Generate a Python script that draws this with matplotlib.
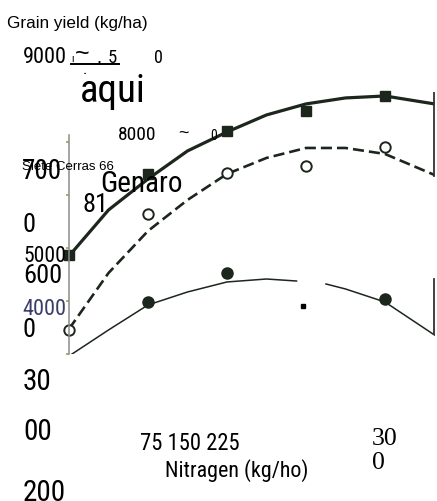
import numpy as np
import matplotlib.pyplot as plt

W, H = 437, 502

# nitrogen rates (kg/ha) and grain yields (kg/ha)
n_rates = [0, 75, 150, 225, 300]
yield_square = [4870, 6400, 7210, 7585, 7870]
yield_open = [3450, 5640, 6415, 6550, 6905]
n_filled = [75, 150, 300]
yield_filled = [3990, 4530, 4040]

# response curves
curve_n = [0, 37.5, 75, 112.5, 150, 187.5, 225, 262.5, 300, 347]
curve_top = [4849, 5717, 6302, 6831, 7189, 7510, 7718, 7831, 7868, 7718]
curve_dash = [3472, 4528, 5321, 5906, 6397, 6699, 6887, 6887, 6774, 6378]
low_left_n = [0, 37.5, 75, 112.5, 150, 187.5, 216]
low_left = [2962, 3453, 3925, 4170, 4359, 4415, 4377]
low_right_n = [244, 262.5, 300, 347]
low_right = [4321, 4227, 3981, 3359]

y_ticks = [3000, 4000, 5000, 6000, 7000]

ink = '#1c261c'
narrow = ['Roboto Condensed', 'Liberation Sans']
regular = ['Liberation Sans']
serif = ['Liberation Serif']

fig = plt.figure(figsize=(W / 100, H / 100), dpi=100)
ax = fig.add_axes([69 / W, 1 - 355 / H, (435 - 69) / W, (355 - 93) / H])
ax.set_xlim(0, 347.5)
ax.set_ylim(3000, 7943)

ax.plot(curve_n, curve_top, color=ink, lw=2.3, solid_capstyle='butt')
ax.plot(curve_n, curve_dash, color=ink, lw=1.9, dashes=(4.2, 1.9))
ax.plot(low_left_n, low_left, color=ink, lw=1.1)
ax.plot(low_right_n, low_right, color=ink, lw=1.1)

ax.plot(n_rates, yield_square, 's', color=ink, ms=7.5, clip_on=False)
ax.plot(n_rates, yield_open, 'o', mfc='white', mec=ink, mew=1.4, ms=7.5, clip_on=False)
ax.plot(n_filled, yield_filled, 'o', color=ink, ms=8, clip_on=False)
ax.plot([222], [3906], 's', color='black', ms=2.5)

for s in ['top', 'right', 'bottom']:
    ax.spines[s].set_visible(False)
ax.spines['left'].set_color('#8c8c8c')
ax.spines['left'].set_linewidth(1.1)
ax.spines['left'].set_bounds(3000, 7130)
ax.set_yticks(y_ticks)
ax.tick_params(axis='y', direction='out', length=2.5, width=1.2, color='#a0a060', labelleft=False)
ax.set_xticks([])
ax.axvline(347, ymin=0.679, ymax=1.0, color='#333333', lw=1.3)
ax.axvline(347, ymin=0.076, ymax=0.286, color='#333333', lw=1.3)


def put(x, y, s, size, fam=narrow, **kw):
    fig.text(x / W, 1 - y / H, s, fontsize=size, family=fam, va='baseline', ha='left', **kw)


put(7, 28, 'Grain yield (kg/ha)', 12.3, regular)
put(23, 63, '9000', 16)
put(71, 62, 'ı', 8)
put(75, 61, '~', 18, regular)
put(97, 63, '.', 14)
put(108, 63, '5', 13.5)
fig.add_artist(plt.Line2D([71 / W, 119 / W], [1 - 64.5 / H, 1 - 64.5 / H], color='black', lw=1.4))
put(83, 74, '.', 12)
put(154, 63, '0', 13)
put(80, 102, 'aqui', 28)
put(118, 140, '8000', 14)
put(178, 138, '~', 13, regular)
put(210, 140, '0', 10)
put(22, 170, 'Siete Cerras 66', 9.5, regular)
put(22, 179, '700', 19.5)
put(100, 192, 'Genaro', 21)
put(82, 212, '81', 19)
put(23, 232, '0', 19)
put(23, 262, '5000', 15.5)
put(23, 283, '600', 19)
put(22, 315, '4000', 16, color='#3a3d66')
put(23, 337, '0', 19)
put(23, 390, '30', 21)
put(23, 440, '00', 21)
put(23, 501, '200', 21)
put(140, 450, '75 150 225', 16.3)
put(165, 477, 'Nitragen (kg/ho)', 15.8)
put(372, 445, '30', 18.5, serif)
put(372, 469, '0', 18.5, serif)

fig.savefig('out.png', dpi=100)
